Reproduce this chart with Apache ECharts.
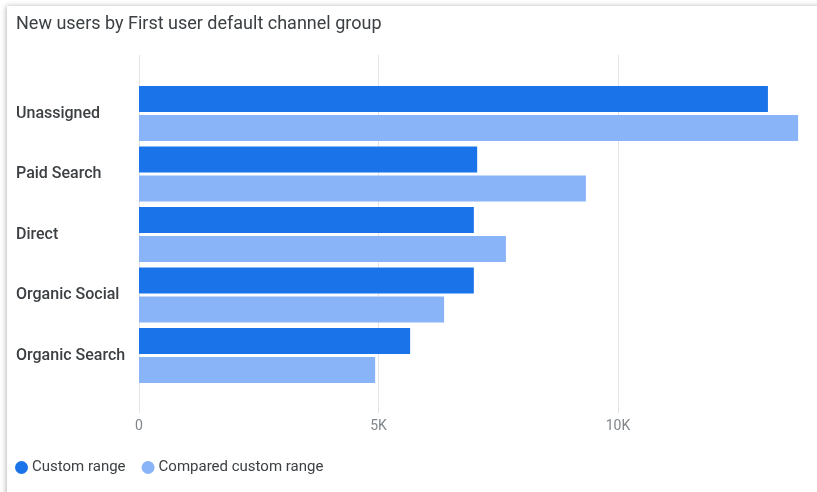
<!DOCTYPE html>
<html>
<head>
<meta charset="utf-8">
<script src="https://cdn.jsdelivr.net/npm/echarts@6/dist/echarts.min.js"></script>
<style>
html,body{margin:0;padding:0;background:#fff;}
#c{width:817px;height:492px;}
</style>
</head>
<body>
<div id="c"></div>
<script>
var categories = ['Unassigned', 'Paid Search', 'Direct', 'Organic Social', 'Organic Search'];
var customRange = [13130, 7060, 6990, 6990, 5660];
var comparedRange = [13760, 9330, 7660, 6370, 4930];
var tickValues = [0, 5000, 10000];

var chart = echarts.init(document.getElementById('c'), null, {renderer: 'canvas'});
var font = 'Roboto, "Noto Sans", sans-serif';
var option = {
  animation: false,
  backgroundColor: '#ffffff',
  graphic: [{
    type: 'rect', z: -10, silent: true,
    shape: {x: 7, y: 6, width: 860, height: 540},
    style: {fill: '#fff', shadowBlur: 5, shadowColor: 'rgba(0,0,0,0.28)', shadowOffsetX: -1, shadowOffsetY: 0}
  }],
  title: {
    text: 'New users by First user default channel group',
    left: 11, top: 10,
    textStyle: {fontFamily: font, fontSize: 18, fontWeight: 'normal', color: '#3c4043'}
  },
  legend: {
    left: 10, top: 455,
    icon: 'circle', itemWidth: 13, itemHeight: 13, itemGap: 16,
    textStyle: {fontFamily: font, fontSize: 15, color: '#3c4043', padding: [0, 0, 0, -1]},
    data: ['Custom range', 'Compared custom range']
  },
  grid: [
    {left: 139, width: 718.5, top: 55, bottom: 79, outerBoundsMode: 'none', containLabel: false},
    {left: 139, width: 718.5, top: 83.25, bottom: 106.25, outerBoundsMode: 'none', containLabel: false}
  ],
  xAxis: [
    {
      gridIndex: 0, type: 'value', min: 0, max: 15000, interval: 5000,
      axisLine: {show: false}, axisTick: {show: false},
      splitLine: {show: true, lineStyle: {color: '#e4e4e4', width: 1}},
      axisLabel: {
        margin: 6, fontFamily: font, fontSize: 14, color: '#80868b',
        formatter: function (v) {
          if (tickValues.indexOf(v) < 0) return '';
          return v === 0 ? '0' : (v / 1000) + 'K';
        }
      }
    },
    {gridIndex: 1, type: 'value', min: 0, max: 15000, show: false}
  ],
  yAxis: [
    {gridIndex: 0, type: 'value', show: false},
    {
      gridIndex: 1, type: 'category', data: categories, inverse: true,
      axisLine: {show: false}, axisTick: {show: false},
      axisLabel: {
        align: 'left', margin: 123, fontFamily: font, fontSize: 16, fontWeight: 500, color: '#3c4043',
        padding: [4, 0, 0, 0]
      }
    }
  ],
  series: [
    {
      name: 'Custom range', type: 'bar', xAxisIndex: 1, yAxisIndex: 1,
      data: customRange, barWidth: 26, barGap: '11%',
      itemStyle: {color: '#1a73e8'}
    },
    {
      name: 'Compared custom range', type: 'bar', xAxisIndex: 1, yAxisIndex: 1,
      data: comparedRange, barWidth: 26, barGap: '11%',
      itemStyle: {color: '#8ab4f8'}
    }
  ]
};
chart.setOption(option);
</script>
</body>
</html>
